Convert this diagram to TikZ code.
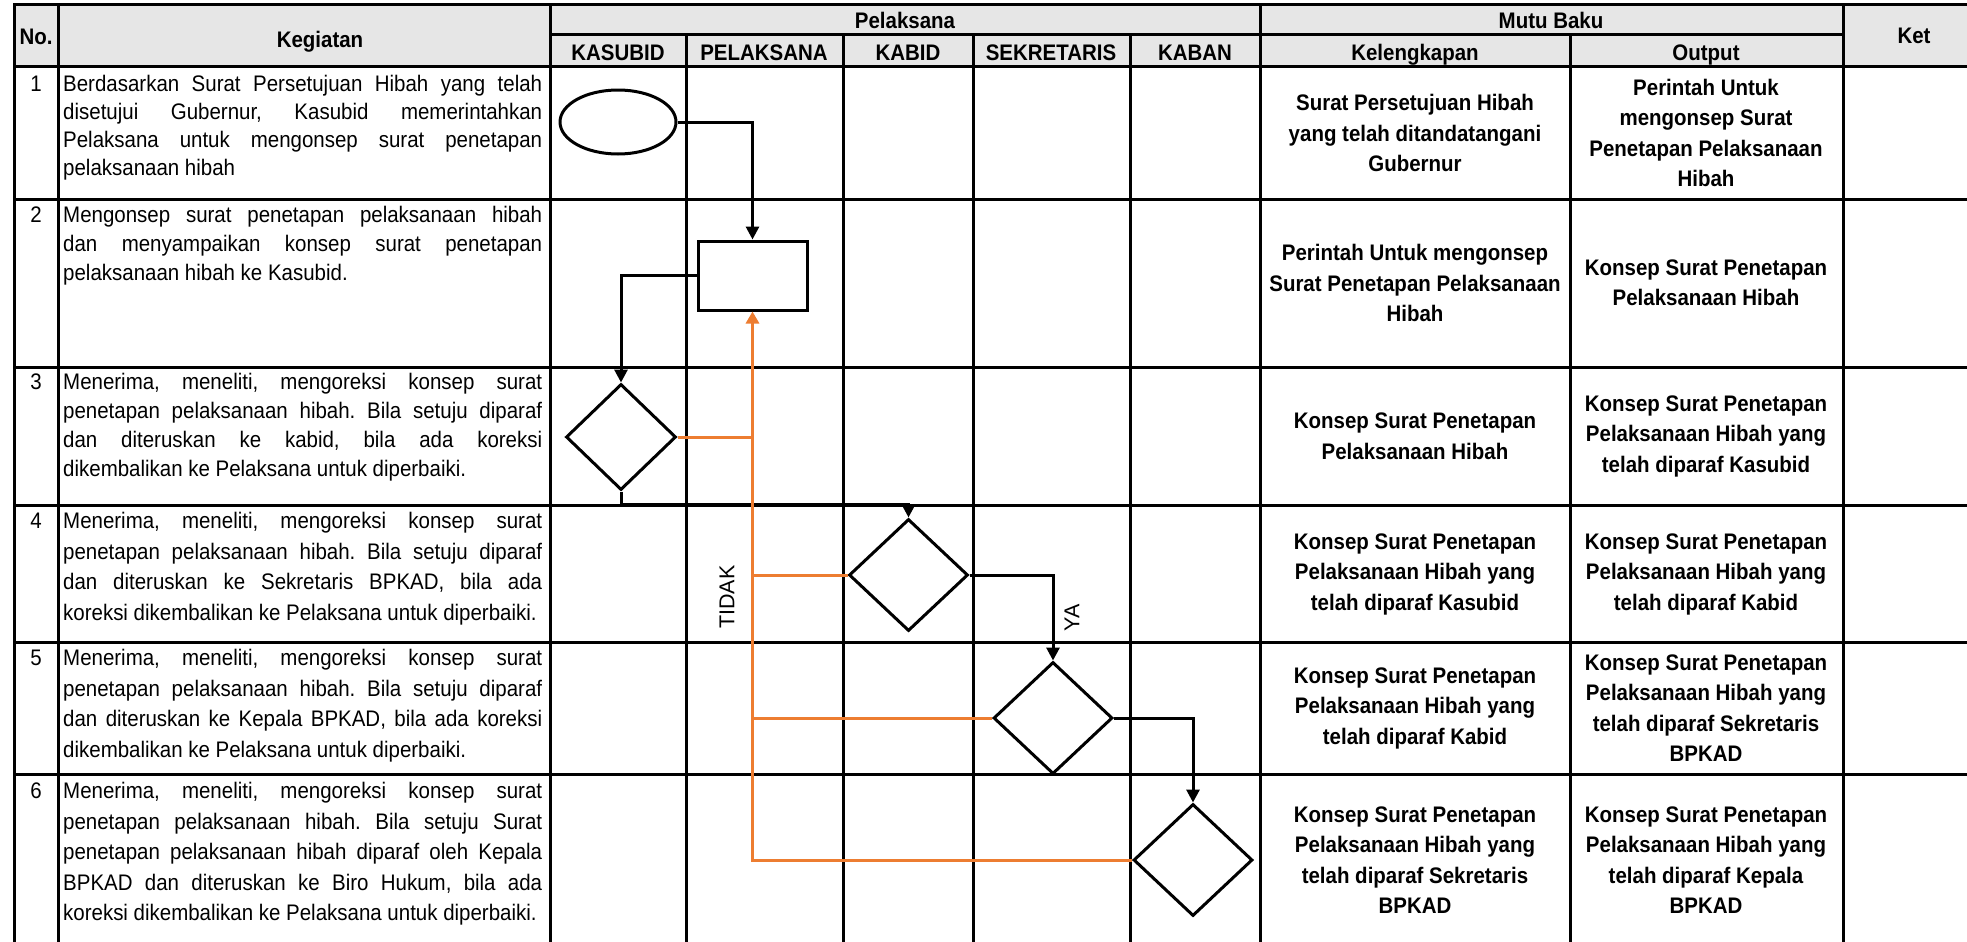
\documentclass[tikz,border=0pt]{standalone}
\usepackage{fontspec}
\setmainfont{Liberation Sans}[FakeStretch=0.91]
\newfontfamily\polos{Liberation Sans}
\usetikzlibrary{shapes.geometric,arrows.meta}
\definecolor{oranye}{RGB}{237,125,49}
\definecolor{abu}{RGB}{230,230,230}
\hyphenpenalty=10000
\exhyphenpenalty=10000
\frenchspacing

\begin{document}
\begin{tikzpicture}[x=1pt,y=-1pt,
  garis/.style={line width=3pt,line cap=rect},
  kop/.style={font=\bfseries\fontsize{22.5}{26}\selectfont,anchor=base,inner sep=0pt},
  uraian/.style={font=\fontsize{22.5}{#1}\selectfont,anchor=north west,text width=479pt,align=justify,inner sep=0pt},
  uraian/.default=30.5,
  nomor/.style={font=\fontsize{22.5}{26}\selectfont,anchor=base,inner sep=0pt},
  mutu/.style={font=\bfseries\fontsize{22.5}{30.5}\selectfont,align=center,inner sep=0pt},
  simbol/.style={draw,line width=3pt,inner sep=0pt},
  putusan/.style={simbol,diamond,minimum width=119pt,minimum height=112pt},
  alur/.style={line width=3pt,-{Triangle[length=13pt,width=13pt]}},
  balik/.style={line width=3pt,draw=oranye},
  jawab/.style={font=\polos\fontsize{21.5}{24}\selectfont,rotate=90,inner sep=0pt}]
\useasboundingbox (0,0) rectangle (1967,942);

% kepala tabel
\fill[abu] (14,5) rectangle (1967,67);
\foreach \x in {14,58,550,1260,1843}
	\draw[garis] (\x,5) -- (\x,942);
\foreach \x in {686,843,973,1130,1570}
	\draw[garis] (\x,35) -- (\x,942);
\foreach \y in {5,67,199,367,505,642,774}
	\draw[garis] (14,\y) -- (1967,\y);
\draw[garis] (550,35) -- (1843,35);

\node[kop] (hno) at (36,45) {No.};
\node[kop] (hkeg) at (320,48) {Kegiatan};
\node[kop] (hpel) at (905,29) {Pelaksana};
\node[kop] (hmutu) at (1551,29) {Mutu Baku};
\node[kop] (hket) at (1914,44) {Ket};
\foreach \x/\t [count=\i] in {618/KASUBID,764/PELAKSANA,908/KABID,1051/SEKRETARIS,1195/KABAN,1415/Kelengkapan,1706/Output}
	\node[kop] (sub\i) at (\x,60) {\t};

% kegiatan
\foreach \n/\y in {1/91,2/222,3/389,4/528,5/665,6/798}
	\node[nomor] (no\n) at (36,\y) {\n};
\node[uraian=28] (keg1) at (63,75) {Berdasarkan Surat Persetujuan Hibah yang telah\linebreak disetujui Gubernur, Kasubid memerintahkan\linebreak Pelaksana untuk mengonsep surat penetapan\linebreak pelaksanaan hibah};
\node[uraian=29] (keg2) at (63,206) {Mengonsep surat penetapan pelaksanaan hibah\linebreak dan menyampaikan konsep surat penetapan\linebreak pelaksanaan hibah ke Kasubid.};
\node[uraian=29] (keg3) at (63,373) {Menerima, meneliti, mengoreksi konsep surat\linebreak penetapan pelaksanaan hibah. Bila setuju diparaf\linebreak dan diteruskan ke kabid, bila ada koreksi\linebreak dikembalikan ke Pelaksana untuk diperbaiki.};
\node[uraian] (keg4) at (63,512) {Menerima, meneliti, mengoreksi konsep surat\linebreak penetapan pelaksanaan hibah. Bila setuju diparaf\linebreak dan diteruskan ke Sekretaris BPKAD, bila ada\linebreak koreksi dikembalikan ke Pelaksana untuk diperbaiki.};
\node[uraian] (keg5) at (63,649) {Menerima, meneliti, mengoreksi konsep surat\linebreak penetapan pelaksanaan hibah. Bila setuju diparaf\linebreak dan diteruskan ke Kepala BPKAD, bila ada koreksi\linebreak dikembalikan ke Pelaksana untuk diperbaiki.};
\node[uraian] (keg6) at (63,782) {Menerima, meneliti, mengoreksi konsep surat\linebreak penetapan pelaksanaan hibah. Bila setuju Surat\linebreak penetapan pelaksanaan hibah diparaf oleh Kepala\linebreak BPKAD dan diteruskan ke Biro Hukum, bila ada\linebreak koreksi dikembalikan ke Pelaksana untuk diperbaiki.};

% mutu baku
\foreach \y/\a/\b [count=\i] in {
133/{Surat Persetujuan Hibah\\yang telah ditandatangani\\Gubernur}/{Perintah Untuk\\mengonsep Surat\\Penetapan Pelaksanaan\\Hibah},%
283/{Perintah Untuk mengonsep\\Surat Penetapan Pelaksanaan\\Hibah}/{Konsep Surat Penetapan\\Pelaksanaan Hibah},%
436/{Konsep Surat Penetapan\\Pelaksanaan Hibah}/{Konsep Surat Penetapan\\Pelaksanaan Hibah yang\\telah diparaf Kasubid},%
574/{Konsep Surat Penetapan\\Pelaksanaan Hibah yang\\telah diparaf Kasubid}/{Konsep Surat Penetapan\\Pelaksanaan Hibah yang\\telah diparaf Kabid},%
708/{Konsep Surat Penetapan\\Pelaksanaan Hibah yang\\telah diparaf Kabid}/{Konsep Surat Penetapan\\Pelaksanaan Hibah yang\\telah diparaf Sekretaris\\BPKAD},%
860/{Konsep Surat Penetapan\\Pelaksanaan Hibah yang\\telah diparaf Sekretaris\\BPKAD}/{Konsep Surat Penetapan\\Pelaksanaan Hibah yang\\telah diparaf Kepala\\BPKAD}%
}{
	\node[mutu] (kel\i) at (1415,\y) {\a};
	\node[mutu] (out\i) at (1706,\y) {\b};
}

% bagan alir
\node[simbol,ellipse,minimum width=116pt,minimum height=64pt] (mulai) at (618,122) {};
\node[simbol,rectangle,minimum width=109pt,minimum height=69pt] (konsep) at (752.5,275.5) {};
\node[putusan,minimum width=110pt,minimum height=106pt] (d1) at (621,437) {};
\node[putusan] (d2) at (908.5,575) {};
\node[putusan] (d3) at (1053,718) {};
\node[putusan] (d4) at (1193,860) {};

\draw[alur] (mulai.east) -| (konsep.north);
\draw[alur] (konsep.west) -| (d1.north);
\draw[alur] (d1.south) -- ++(0,13) -| (d2.north);
\draw[alur] (d2.east) -| (d3.north);
\draw[alur] (d3.east) -| (d4.north);

%dikembalikan
\draw[balik,-{Triangle[length=12pt,width=13pt]}] (d4.west) -| (konsep.south);
\draw[balik] (d1.east) -- (d1.east -| konsep.south);
\draw[balik] (d2.west) -- (d2.west -| konsep.south);
\draw[balik] (d3.west) -- (d3.west -| konsep.south);

\node[jawab] (tidak) at (727,597) {TIDAK};
\node[jawab] (ya) at (1072,618) {YA};
\end{tikzpicture}
\end{document}
